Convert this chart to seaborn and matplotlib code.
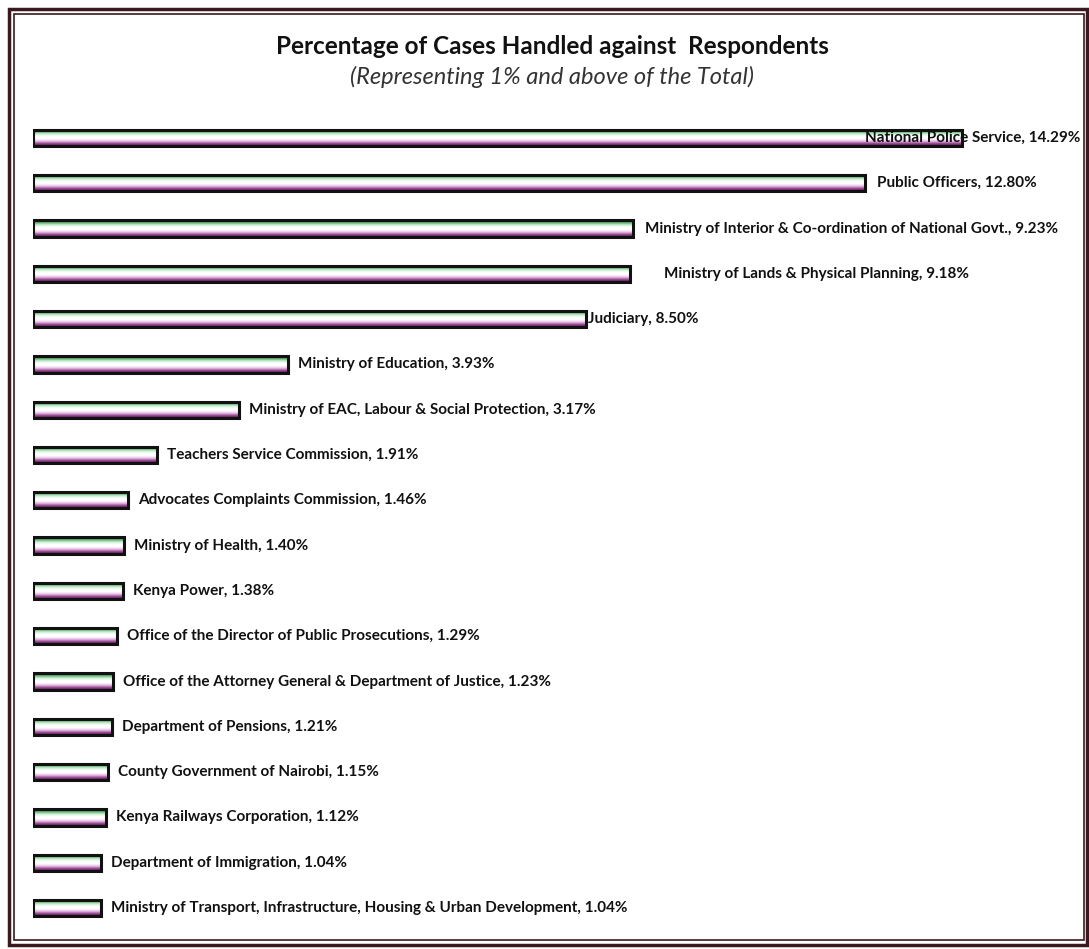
import numpy as np
import pandas as pd
import seaborn as sns
import matplotlib.pyplot as plt
from matplotlib.colors import LinearSegmentedColormap
from matplotlib.patches import Rectangle

# Data
respondents = [
    "National Police Service",
    "Public Officers",
    "Ministry of Interior & Co-ordination of National Govt.",
    "Ministry of Lands & Physical Planning",
    "Judiciary",
    "Ministry of Education",
    "Ministry of EAC, Labour & Social Protection",
    "Teachers Service Commission",
    "Advocates Complaints Commission",
    "Ministry of Health",
    "Kenya Power",
    "Office of the Director of Public Prosecutions",
    "Office of the Attorney General & Department of Justice",
    "Department of Pensions",
    "County Government of Nairobi",
    "Kenya Railways Corporation",
    "Department of Immigration",
    "Ministry of Transport, Infrastructure, Housing & Urban Development",
]
percentages = [14.29, 12.80, 9.23, 9.18, 8.50, 3.93, 3.17, 1.91, 1.46, 1.40,
               1.38, 1.29, 1.23, 1.21, 1.15, 1.12, 1.04, 1.04]

df = pd.DataFrame({"respondent": respondents, "pct": percentages})

sns.set_theme(style="white")
plt.rcParams["font.family"] = ["Lato", "DejaVu Sans"]

fig = plt.figure(figsize=(10.89, 9.49), dpi=100)
ax = fig.add_axes([33 / 1089, 0.0193, 1052 / 1089, 0.8592])

sns.barplot(data=df, x="pct", y="respondent", orient="h", width=0.36,
            color="white", edgecolor="#111111", linewidth=2.2, ax=ax)

# green / white / purple gradient inside each bar
grad = LinearSegmentedColormap.from_list(
    "bar", ["#2c5a2c", "#5aa86a", "#c8f0d0", "#ffffff", "#ffffff",
            "#e8c0e6", "#9a4a94", "#4a1045"])
g = np.linspace(0, 1, 64).reshape(-1, 1)
for p in ax.patches:
    x0, y0 = p.get_x(), p.get_y()
    x1, y1 = x0 + p.get_width(), y0 + p.get_height()
    im = ax.imshow(g, cmap=grad, aspect="auto", extent=(x0, x1, y1, y0),
                   origin="upper", zorder=1, interpolation="bilinear")
    im.set_clip_path(p)
    p.set_facecolor("none")
    p.set_zorder(2)

ax.set_xlim(0, 1052 / 65)
ax.set_ylim(len(respondents) - 0.5, -0.5)

# label position offsets (pixels from bar end), mimic the original placement
px = 1 / 65
offsets = [-97, 12, 12, 34, 2] + [10] * 13
for i, (name, val) in enumerate(zip(respondents, percentages)):
    ax.text(val + offsets[i] * px, i, f"{name}, {val:.2f}%", va="center",
            ha="left", fontsize=11, fontweight="bold", color="#111111",
            zorder=3)

ax.set_xlabel("")
ax.set_ylabel("")
ax.set_xticks([])
ax.set_yticks([])
for s in ax.spines.values():
    s.set_visible(False)
ax.patch.set_alpha(0)

fig.text(552 / 1089, 1 - 46 / 949, "Percentage of Cases Handled against  Respondents",
         ha="center", va="center", fontsize=17.5, fontweight="bold", color="#111111")
fig.text(552 / 1089, 1 - 77 / 949, "(Representing 1% and above of the Total)",
         ha="center", va="center", fontsize=17, fontstyle="italic", color="#333333")

# double frame around the chart
fig.patches.append(Rectangle((9 / 1089, 4 / 949), 1078 / 1089, 936 / 949,
                             transform=fig.transFigure, fill=False,
                             edgecolor="#3a1a20", linewidth=2.5))
fig.patches.append(Rectangle((14 / 1089, 9 / 949), 1070 / 1089, 926 / 949,
                             transform=fig.transFigure, fill=False,
                             edgecolor="#3a1a20", linewidth=1.2))

fig.savefig("out.png", dpi=100, facecolor="white")
